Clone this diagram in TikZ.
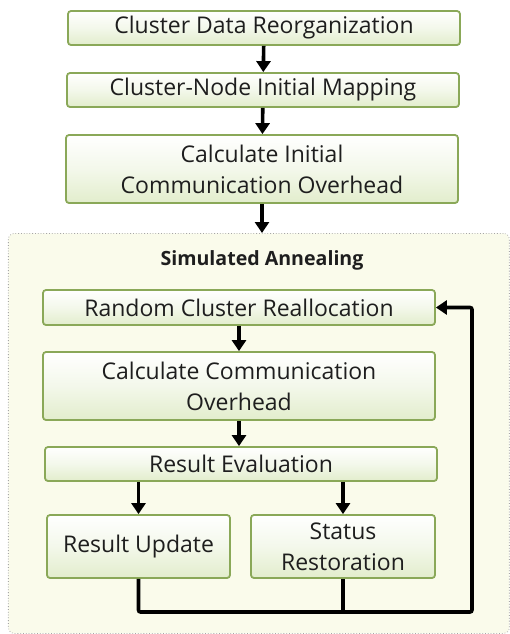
\documentclass[tikz,border=0pt]{standalone}
\usepackage{fontspec}
\setmainfont{Open Sans}
\usepackage{tikz}
\usetikzlibrary{arrows.meta,positioning}
\definecolor{boxedge}{RGB}{138,168,88}
\definecolor{boxfill}{RGB}{226,237,204}
\definecolor{panelfill}{RGB}{250,251,235}
\definecolor{txt}{RGB}{30,30,30}

\begin{document}
\begin{tikzpicture}[x=0.5pt, y=-0.5pt,
  font=\fontsize{11.5}{15.5}\selectfont, text=txt,
  box/.style={draw=boxedge, line width=0.9pt, rounded corners=1.5pt, align=center,
    top color=white, bottom color=boxfill, middle color=white!60!boxfill,
    inner sep=0pt, minimum width=196pt},
  panel/.style={draw=gray!70, densely dotted, fill=panelfill, rounded corners=3pt,
    inner sep=0pt, anchor=north west},
  flow/.style={-{Triangle[length=5.5pt, width=7pt]}, line width=1.8pt, black},
  line/.style={line width=1.8pt, black}]
\useasboundingbox (0,0) rectangle (510,634);
\node[box, minimum height=17pt] (init1) at (264,28) {Cluster Data Reorganization};
\node[box, minimum height=17pt] (init2) at (263,90) {Cluster-Node Initial Mapping};
\node[box, minimum height=34pt] (init3) at (262,169) {Calculate Initial\\Communication Overhead};
\node[panel, minimum width=250.5pt, minimum height=200pt] (sa) at (8,233) {};
\node[font=\fontsize{9.8}{12}\selectfont\bfseries] (title) at (262,260) {Simulated Annealing};
\node[box, minimum height=17.5pt] (rand) at (239,307.5) {Random Cluster Reallocation};
\node[box, minimum height=34pt] (comm) at (239,386) {Calculate Communication\\Overhead};
\node[box, minimum height=17pt] (eval) at (241,464) {Result Evaluation};
\node[box, minimum width=91.5pt, minimum height=31.5pt] (upd) at (138.5,546.5) {Result Update};
\node[box, minimum width=92pt, minimum height=31.5pt] (rest) at (343,546.5) {Status\\Restoration};
\coordinate (loop) at (472,612);
\draw[flow] (init1) -- (init2);
\draw[flow] (init2) -- (init3);
\draw[flow] (init3) -- (init3 |- sa.north);
\draw[flow] (rand) -- (rand |- comm.north);
\draw[flow] (comm) -- (comm |- eval.north);
\draw[flow] (upd |- eval.south) -- (upd);
\draw[flow] (rest |- eval.south) -- (rest);
\draw[line] (rest.south) -- (rest.south |- loop);
\draw[flow, rounded corners=1pt] (upd.south) |- (loop) |- (rand.east);
\end{tikzpicture}
\end{document}
